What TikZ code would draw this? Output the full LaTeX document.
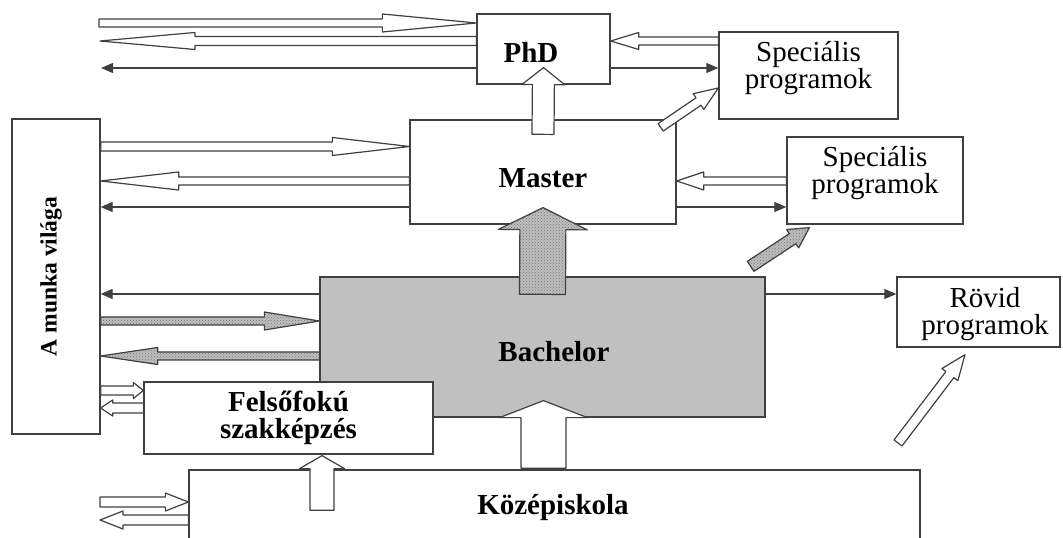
\documentclass[tikz,border=0pt]{standalone}
\usepackage{fontspec}
\setmainfont{Liberation Serif}
\usetikzlibrary{calc,arrows.meta,patterns}

\tikzset{
  box/.style={draw=black!75, line width=1.3pt, fill=white, inner sep=0pt},
  txt/.style={font=\fontsize{29}{27}\selectfont\bfseries, align=center, inner sep=0pt},
  txtr/.style={font=\fontsize{29}{27}\selectfont, align=center, inner sep=0pt},
  hollow/.style={draw=black!75, line width=1.2pt, fill=white, line join=round},
  grainy/.style={draw=black!75, line width=1.2pt, preaction={fill=gray!50}, pattern=crosshatch dots, pattern color=black!55, line join=round},
  link/.style={draw=black!75, line width=1.2pt, -{Triangle[length=12pt,width=10pt]}},
}

% fat arrow: [style] from, to, shaft half width, head half width, head length
\newcommand{\fatarrow}[6][hollow]{%
  \coordinate (fa-s) at #2;
  \coordinate (fa-t) at #3;
  \coordinate (fa-h) at ($(fa-t)!#6!(fa-s)$);
  \draw[#1] ($(fa-s)!#4!90:(fa-t)$) -- ($(fa-h)!#4!90:(fa-t)$) -- ($(fa-h)!#5!90:(fa-t)$)
    -- (fa-t) -- ($(fa-h)!#5!-90:(fa-t)$) -- ($(fa-h)!#4!-90:(fa-t)$) -- ($(fa-s)!#4!-90:(fa-t)$) -- cycle;}

\begin{document}
\begin{tikzpicture}[x=1pt,y=1pt]

  \useasboundingbox (0,0) rectangle (1063,538);
  \clip (0,0) rectangle (1063,538);

  % Boxes
  \node[box, minimum width=88pt, minimum height=315pt] (munka) at (56,261.5)
    {}; \node[txt, font=\fontsize{23.5}{26}\selectfont\bfseries, rotate=90] (munkatxt) at (51,261.5) {A munka világa};
  \node[box, minimum width=133pt, minimum height=70pt,
    label={[txt, xshift=-12.5pt, yshift=-3.5pt]center:PhD}] (phd) at (543.5,489) {};
  \node[box, minimum width=179pt, minimum height=87pt,
    label={[txtr, yshift=7pt]center:Speciális\\programok}] (spec1) at (808.5,462.5) {};
  \node[box, minimum width=266pt, minimum height=104pt,
    label={[txt, yshift=-6pt]center:Master}] (master) at (543,366) {};
  \node[box, minimum width=176pt, minimum height=87pt,
    label={[txtr, yshift=7pt]center:Speciális\\programok}] (spec2) at (875,357.5) {};
  \node[box, fill={rgb,255:red,192;green,192;blue,192}, minimum width=445pt, minimum height=140pt,
    label={[txt, xshift=11.5pt, yshift=-4.5pt]center:Bachelor}] (bachelor) at (542.5,191) {};
  \node[box, minimum width=163pt, minimum height=70pt,
    label={[txtr, xshift=6.5pt, yshift=-2pt]center:Rövid\\programok}] (rovid) at (978.5,226) {};
  \node[box, minimum width=289pt, minimum height=72pt,
    label={[txt]center:Felsőfokú\\szakképzés}] (felso) at (288.5,120) {};
  \node[box, minimum width=731pt, minimum height=108pt,
    label={[txt, xshift=-1.5pt, yshift=16pt]center:Középiskola}] (kozep) at (554.5,14) {};

  % Free ends
  \coordinate (outA) at (99,515);
  \coordinate (outB) at (100,497);
  \coordinate (outC) at (101,470);
  \coordinate (outD) at (100,36);
  \coordinate (outE) at (100,18);
  \coordinate (outF) at (898,95);

  % PhD row
  \fatarrow{(outA)}{([yshift=26pt]phd.west)}{4pt}{9pt}{94pt}
  \fatarrow{([yshift=8pt]phd.west)}{(outB)}{4.5pt}{8.5pt}{95pt}
  \draw[link] ([yshift=-19pt]phd.west) -- (outC);
  \fatarrow{([yshift=34.5pt]spec1.west)}{([yshift=8pt]phd.east)}{4pt}{8.5pt}{28pt}
  \draw[link] ([yshift=-19pt]phd.east) -- ([yshift=7.5pt]spec1.west);

  % Master row
  \fatarrow{([yshift=130pt]munka.east)}{([yshift=25.5pt]master.west)}{4.5pt}{9pt}{77pt}
  \fatarrow{([yshift=-9pt]master.west)}{([yshift=95.5pt]munka.east)}{4pt}{9pt}{78pt}
  \draw[link] ([yshift=-35pt]master.west) -- ([yshift=69.5pt]munka.east);
  \fatarrow{([yshift=-0.5pt]spec2.west)}{([yshift=-9pt]master.east)}{4pt}{9pt}{27pt}
  \draw[link] ([yshift=-35pt]master.east) -- ([yshift=-26.5pt]spec2.west);
  \fatarrow{([yshift=-15pt]master.north)}{([yshift=17pt]phd.south)}{11pt}{21.5pt}{17pt}
  \fatarrow{([xshift=-16pt,yshift=-8pt]master.north east)}{([yshift=-12.5pt]spec1.west)}{4.5pt}{9.5pt}{24pt}

  % Bachelor row
  \fatarrow[grainy]{([yshift=-18pt]bachelor.north)}{([yshift=17pt]master.south)}{23pt}{44.5pt}{22pt}
  \fatarrow[grainy]{([xshift=-15pt,yshift=10pt]bachelor.north east)}{([xshift=23pt,yshift=-3pt]spec2.south west)}{6pt}{11pt}{20pt}
  \draw[link] ([yshift=53pt]bachelor.west) -- ([yshift=-17.5pt]munka.east);
  \draw[link] ([yshift=53pt]bachelor.east) -- ([yshift=18pt]rovid.west);
  \fatarrow[grainy]{([yshift=-44.5pt]munka.east)}{([yshift=26pt]bachelor.west)}{4pt}{9pt}{55pt}
  \fatarrow[grainy]{([yshift=-9pt]bachelor.west)}{([yshift=-79.5pt]munka.east)}{4pt}{8.5pt}{57pt}

  % Felsofoku and Kozepiskola
  \fatarrow{([yshift=-114pt]munka.east)}{([yshift=27.5pt]felso.west)}{4.5pt}{8pt}{10pt}
  \fatarrow{([yshift=10pt]felso.west)}{([yshift=-131.5pt]munka.east)}{5pt}{8pt}{12pt}
  \fatarrow{(outD)}{([yshift=22pt]kozep.west)}{5pt}{9pt}{23pt}
  \fatarrow{([yshift=4pt]kozep.west)}{(outE)}{5pt}{9pt}{23pt}
  \fatarrow{([xshift=-232.5pt,yshift=-41pt]kozep.north)}{([xshift=33.5pt,yshift=-1pt]felso.south)}{12pt}{22.5pt}{13pt}
  \fatarrow{([xshift=-11pt,yshift=1pt]kozep.north)}{([xshift=1pt,yshift=17pt]bachelor.south)}{22.5pt}{44pt}{17pt}
  \fatarrow{(outF)}{([xshift=-13.5pt,yshift=-7pt]rovid.south)}{5pt}{10pt}{25pt}

\end{tikzpicture}
\end{document}
